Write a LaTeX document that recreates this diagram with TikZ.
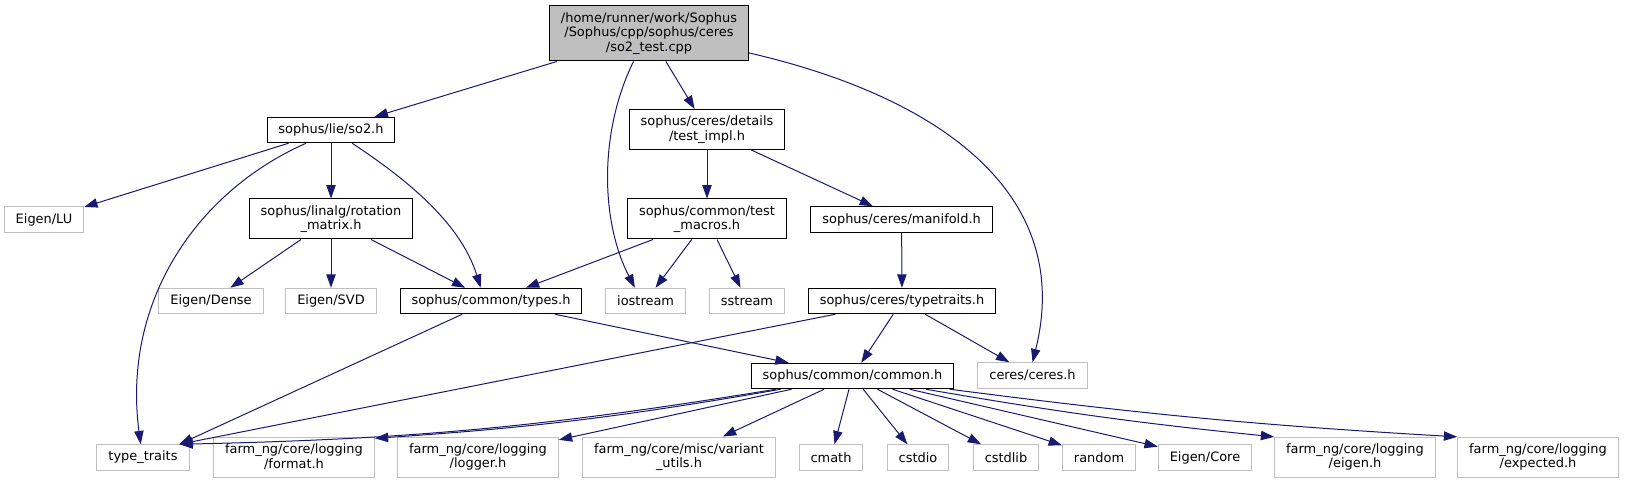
\documentclass[tikz,border=0pt]{standalone}
\usepackage{fontspec}
\setmainfont{DejaVu Sans}
\usetikzlibrary{arrows.meta}

\definecolor{edgeblue}{RGB}{25,25,112}
\definecolor{extgrey}{RGB}{191,191,191}

\tikzset{every picture/.style={line width=0.75pt}}
\tikzset{
  hdr/.style={draw=black, align=center, inner xsep=8.6pt, inner ysep=0.5pt,
    font=\fontsize{9.7pt}{11pt}\selectfont, minimum height=19.1pt},
  sys/.style={hdr, draw=extgrey},
  two/.style={minimum height=30pt},
  three/.style={minimum height=41.25pt},
  incl/.style={draw=edgeblue, -{Triangle[length=10pt,width=7pt]}}
}

\begin{document}
\begin{tikzpicture}[x=0.75pt,y=0.75pt,yscale=-1,xscale=1]
\useasboundingbox (0,0) rectangle (1626,484);

%Shape: Box (top row)
\node [hdr, three, fill=extgrey] (root) at (649,33.5) {/home/runner/work/Sophus\\/Sophus/cpp/sophus/ceres\\/so2\_test.cpp};
%Shape: Box (second row)
\node [hdr] (so2) at (331,130) {sophus/lie/so2.h};
\node [hdr, two] (testimpl) at (707,129.5) {sophus/ceres/details\\/test\_impl.h};
%Shape: Box (third row)
\node [sys] (eigenlu) at (44,219.5) {Eigen/LU};
\node [hdr, two] (rotation) at (331,219) {sophus/linalg/rotation\\\_matrix.h};
\node [hdr, two] (testmacros) at (707,219) {sophus/common/test\\\_macros.h};
\node [hdr] (manifold) at (901.6,219.5) {sophus/ceres/manifold.h};
%Shape: Box (fourth row)
\node [sys] (dense) at (211,301) {Eigen/Dense};
\node [sys] (svd) at (331,301) {Eigen/SVD};
\node [hdr] (types) at (491,301) {sophus/common/types.h};
\node [sys] (iostream) at (645.6,301) {iostream};
\node [sys] (sstream) at (747,301) {sstream};
\node [hdr] (typetraits) at (902,301) {sophus/ceres/typetraits.h};
%Shape: Box (fifth row)
\node [hdr] (common) at (852.5,376) {sophus/common/common.h};
\node [sys] (ceres) at (1032.5,375.5) {ceres/ceres.h};
%Shape: Box (bottom row)
\node [sys] (typetr) at (143,457.5) {type\_traits};
\node [sys, two] (format) at (294,457) {farm\_ng/core/logging\\/format.h};
\node [sys, two] (logger) at (478,457) {farm\_ng/core/logging\\/logger.h};
\node [sys, two] (variant) at (679,457) {farm\_ng/core/misc/variant\\\_utils.h};
\node [sys] (cmath) at (831,457.5) {cmath};
\node [sys] (cstdio) at (918,457.5) {cstdio};
\node [sys] (cstdlib) at (1006,457.5) {cstdlib};
\node [sys] (random) at (1099,457.5) {random};
\node [sys] (core) at (1205,457.5) {Eigen/Core};
\node [sys, two] (eigenh) at (1355,457) {farm\_ng/core/logging\\/eigen.h};
\node [sys, two] (expected) at (1538,457) {farm\_ng/core/logging\\/expected.h};

%Straight Lines and Curves: includes of the test file
\draw [incl] (root) -- (so2);
\draw [incl] (root.-119) .. controls +(-34,69) and +(-35,-68) .. (iostream.129);
\draw [incl] (root) -- (testimpl);
\draw [incl] (root.-11) .. controls +(183,42) and +(43,-173) .. (ceres.north);
%includes of so2.h
\draw [incl] (so2) -- (eigenlu);
\draw [incl] (so2.-152) .. controls +(-107,47) and +(-19,-145) .. (typetr.100);
\draw [incl] (so2) -- (rotation);
\draw [incl] (so2.-32) .. controls +(48,32) and +(-21,-68) .. (types.128);
%includes of test_impl.h
\draw [incl] (testimpl) -- (testmacros);
\draw [incl] (testimpl) -- (manifold);
%includes of rotation_matrix.h
\draw [incl] (rotation) -- (dense);
\draw [incl] (rotation) -- (svd);
\draw [incl] (rotation) -- (types);
%includes of test_macros.h
\draw [incl] (testmacros) -- (types);
\draw [incl] (testmacros) -- (iostream);
\draw [incl] (testmacros) -- (sstream);
%includes of manifold.h and typetraits.h
\draw [incl] (manifold) -- (typetraits);
\draw [incl] (typetraits) -- (typetr.20);
\draw [incl] (typetraits) -- (common);
\draw [incl] (typetraits) -- (ceres);
%includes of types.h
\draw [incl] (types) -- (typetr.20);
\draw [incl] (types) -- (common);
%includes of common.h
\draw [incl] (common) to [bend right=4] (typetr.20);
\draw [incl] (common) to [bend right=3] (format.13);
\draw [incl] (common) -- (logger.12);
\draw [incl] (common) -- (variant);
\draw [incl] (common) -- (cmath);
\draw [incl] (common) -- (cstdio);
\draw [incl] (common) -- (cstdlib);
\draw [incl] (common) -- (random);
\draw [incl] (common) -- (core);
\draw [incl] (common) to [bend left=2] (eigenh.166);
\draw [incl] (common) to [bend left=2] (expected.166);

\end{tikzpicture}
\end{document}
